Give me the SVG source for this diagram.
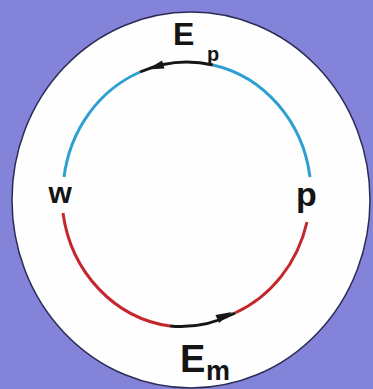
<svg xmlns="http://www.w3.org/2000/svg" width="373" height="389" viewBox="0 0 373 389">
<style>
.lbl{font-family:"Liberation Sans",Arial,sans-serif;font-weight:bold;fill:#141414}
.arc{fill:none;stroke-width:3;stroke-linecap:butt}
.blue{stroke:#2e9fd2}
.red{stroke:#c3272c}
.blk{stroke:#161616}
.head{fill:#161616}
</style>
<rect x="0" y="0" width="373" height="389" fill="#8383da"/>
<g id="disc">
<ellipse cx="191" cy="200" rx="179" ry="188" fill="#fefefe" stroke="#2b2b55" stroke-width="1.5"/>
</g>
<g id="connectors">
<path class="arc blue" d="M64 177 A124 133 0 0 1 140 72"/>
<path class="arc blk" d="M140 72 A124 133 0 0 1 213 65"/>
<path class="arc blue" d="M213 65 A124 133 0 0 1 310 177"/>
<path class="arc red" d="M307 222 A124 133 0 0 1 235 313"/>
<path class="arc blk" d="M235 313 A124 133 0 0 1 170 326"/>
<path class="arc red" d="M170 326 A124 133 0 0 1 63 213"/>
<polygon class="head" points="147,69.5 164.5,68.5 162,60.5"/>
<polygon class="head" points="232,312 219,323 215.5,315"/>
</g>
<g id="node-w"><text class="lbl" x="48.5" y="203" font-size="30">w</text></g>
<g id="node-p"><text class="lbl" x="296" y="206" font-size="34">p</text></g>
<g id="node-Ep"><text class="lbl" x="173" y="45" font-size="32">E</text><text class="lbl" x="207" y="61" font-size="20">p</text></g>
<g id="node-Em"><text class="lbl" x="180" y="372" font-size="38">E</text><text class="lbl" x="206" y="380" font-size="27">m</text></g>
</svg>
